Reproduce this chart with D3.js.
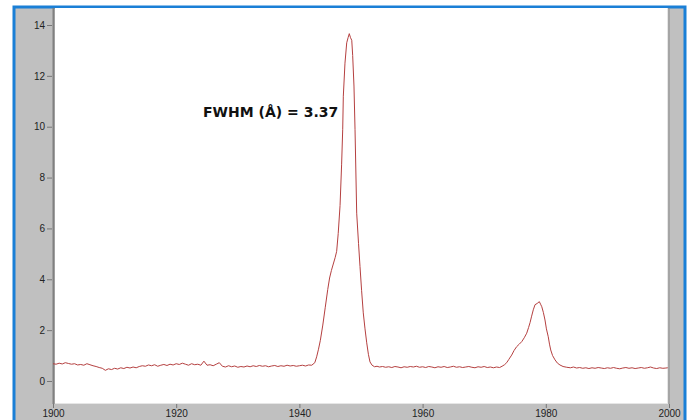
<!DOCTYPE html>
<html>
<head>
<meta charset="utf-8">
<script src="https://cdn.jsdelivr.net/npm/d3@7"></script>
<style>
    body { margin: 0; background: #fff; }
    svg { display: block; }
</style>
</head>
<body>
<svg id="chart" width="689" height="420"></svg>
<script>
// wavelength (A) and intensity
var wavelength = [
    1900.0,1900.5,1901.0,1901.5,1902.0,1902.5,1903.0,1903.5,1904.0,1904.5,
    1905.0,1905.5,1906.0,1906.5,1907.0,1907.5,1908.0,1908.5,1909.0,1909.5,
    1910.0,1910.5,1911.0,1911.5,1912.0,1912.5,1913.0,1913.5,1914.0,1914.5,
    1915.0,1915.5,1916.0,1916.5,1917.0,1917.5,1918.0,1918.5,1919.0,1919.5,
    1920.0,1920.5,1921.0,1921.5,1922.0,1922.5,1923.0,1923.5,1924.0,1924.5,
    1925.0,1925.5,1926.0,1926.5,1927.0,1927.5,1928.0,1928.5,1929.0,1929.5,
    1930.0,1930.5,1931.0,1931.5,1932.0,1932.5,1933.0,1933.5,1934.0,1934.5,
    1935.0,1935.5,1936.0,1936.5,1937.0,1937.5,1938.0,1938.5,1939.0,1939.5,
    1940.0,1940.5,1941.0,1941.5,1942.0,
    1942.5,1942.8,1943.1,1943.4,1943.8,1944.2,1944.6,1944.9,1945.2,1945.5,
    1945.8,1946.05,1946.3,1946.6,1946.85,1947.03,1947.13,1947.4,1947.68,1947.9,
    1948.1,1948.3,1948.5,1948.65,1948.86,1949.03,1949.3,1949.6,1949.84,1950.1,
    1950.37,1950.65,1950.93,1951.2,1951.46,1951.8,1952.2,1952.6,
    1953.0,1953.5,1954.0,1954.5,1955.0,1955.5,1956.0,1956.5,1957.0,1957.5,
    1958.0,1958.5,1959.0,1959.5,1960.0,1960.5,1961.0,1961.5,1962.0,1962.5,
    1963.0,1963.5,1964.0,1964.5,1965.0,1965.5,1966.0,1966.5,1967.0,1967.5,
    1968.0,1968.5,1969.0,1969.5,1970.0,1970.5,1971.0,1971.5,1972.0,1972.5,
    1972.9,1973.3,1973.65,1974.0,1974.46,1974.85,1975.27,1975.7,1976.1,1976.5,
    1976.9,1977.2,1977.45,1977.7,1977.97,1978.25,1978.6,1978.95,1979.15,1979.35,
    1979.6,1979.87,1980.1,1980.4,1980.6,1980.8,1981.1,1981.5,1981.9,1982.3,
    1982.8,1983.4,
    1984.0,1984.5,1985.0,1985.5,1986.0,1986.5,1987.0,1987.5,1988.0,1988.5,
    1989.0,1989.5,1990.0,1990.5,1991.0,1991.5,1992.0,1992.5,1993.0,1993.5,
    1994.0,1994.5,1995.0,1995.5,1996.0,1996.5,1997.0,1997.5,1998.0,1998.5,
    1999.0,1999.5,1999.8
];
var intensity = [
    0.68,0.66,0.70,0.67,0.72,0.69,0.66,0.68,0.63,0.65,
    0.62,0.68,0.64,0.60,0.57,0.53,0.50,0.42,0.48,0.45,
    0.50,0.47,0.52,0.49,0.54,0.51,0.55,0.52,0.57,0.60,
    0.58,0.63,0.60,0.64,0.58,0.62,0.65,0.61,0.66,0.63,
    0.68,0.65,0.70,0.66,0.62,0.68,0.64,0.66,0.62,0.78,
    0.62,0.64,0.60,0.66,0.72,0.58,0.55,0.60,0.56,0.59,
    0.54,0.57,0.55,0.59,0.56,0.60,0.57,0.61,0.58,0.60,
    0.56,0.59,0.61,0.57,0.60,0.58,0.62,0.59,0.61,0.58,
    0.60,0.62,0.59,0.63,0.62,
    0.72,0.95,1.25,1.6,2.2,2.9,3.6,4.05,4.35,4.6,
    4.85,5.1,5.8,6.9,8.5,9.9,11.2,12.5,13.3,13.5,
    13.66,13.5,13.4,12.8,11.6,9.9,6.6,5.4,4.5,3.55,
    2.68,2.05,1.5,1.05,0.75,0.62,0.56,0.58,
    0.55,0.57,0.54,0.56,0.53,0.57,0.55,0.52,0.56,0.54,
    0.57,0.55,0.58,0.54,0.56,0.53,0.57,0.55,0.52,0.56,
    0.54,0.57,0.53,0.55,0.58,0.54,0.56,0.53,0.55,0.57,
    0.54,0.52,0.56,0.54,0.57,0.53,0.55,0.52,0.55,0.53,
    0.58,0.64,0.72,0.85,1.02,1.2,1.35,1.45,1.55,1.7,
    1.88,2.1,2.3,2.55,2.8,3.0,3.05,3.12,3.02,2.92,
    2.7,2.4,2.05,1.74,1.45,1.22,1.0,0.83,0.7,0.63,
    0.57,0.54,
    0.52,0.55,0.51,0.53,0.50,0.52,0.49,0.52,0.50,0.53,
    0.51,0.49,0.52,0.50,0.53,0.50,0.48,0.51,0.53,0.50,
    0.52,0.49,0.51,0.53,0.50,0.52,0.55,0.51,0.49,0.52,
    0.50,0.51,0.52
];
var xTicks = [1900, 1920, 1940, 1960, 1980, 2000];
var yTicks = [0, 2, 4, 6, 8, 10, 12, 14];
var fwhmLabel = 'FWHM (\u00C5) = 3.37';

var svg = d3.select('#chart');
var plot = {l: 55, t: 8, r: 667, b: 403};

// window frame: grey panel inside a blue border
svg.append('rect')
    .attr('x', 14).attr('y', 7)
    .attr('width', 671).attr('height', 420)
    .attr('fill', '#c0c0c0')
    .attr('stroke', '#1a7fd6')
    .attr('stroke-width', 3);

// white plot area with sunken edges
svg.append('rect')
    .attr('x', plot.l).attr('y', plot.t)
    .attr('width', plot.r - plot.l).attr('height', plot.b - plot.t)
    .attr('fill', '#fff');
svg.append('line')
    .attr('x1', plot.l - 1.5).attr('x2', plot.l - 1.5)
    .attr('y1', plot.t).attr('y2', plot.b + 1)
    .attr('stroke', '#808080').attr('stroke-width', 2);
svg.append('line')
    .attr('x1', plot.r + 0.5).attr('x2', plot.r + 0.5)
    .attr('y1', plot.t).attr('y2', plot.b + 1)
    .attr('stroke', '#e6e6e6');
svg.append('line')
    .attr('x1', plot.r + 2).attr('x2', plot.r + 2)
    .attr('y1', plot.t).attr('y2', plot.b + 1)
    .attr('stroke', '#8a8a8a');
svg.append('line')
    .attr('x1', plot.l).attr('x2', plot.r + 1)
    .attr('y1', plot.b + 0.5).attr('y2', plot.b + 0.5)
    .attr('stroke', '#e6e6e6');

var xScale = d3.scaleLinear().domain([1900, 2000]).range([53, 669]);
var yScale = d3.scaleLinear().domain([0, 14]).range([381, 25]);

var xAxis = d3.axisBottom(xScale).tickValues(xTicks).tickSize(4).tickPadding(2).tickFormat(d3.format('d'));
var yAxis = d3.axisLeft(yScale).tickValues(yTicks).tickSize(5).tickPadding(2);

var xAxisG = svg.append('g')
    .attr('transform', 'translate(0,' + (plot.b + 1) + ')')
    .call(xAxis);
var yAxisG = svg.append('g')
    .attr('transform', 'translate(' + (plot.l - 3) + ',0)')
    .call(yAxis);

[xAxisG, yAxisG].forEach(function(g){
    g.select('.domain').remove();
    g.selectAll('.tick line').attr('stroke', '#777');
    g.selectAll('.tick text')
        .attr('fill', '#222')
        .style('font-family', 'Liberation Sans, Arial, sans-serif')
        .style('font-size', '10px');
});

// spectrum trace
var pts = wavelength.map(function(w, i){ return [w, intensity[i]]; });
var line = d3.line()
    .x(function(d){ return xScale(d[0]); })
    .y(function(d){ return yScale(d[1]); });

svg.append('path')
    .datum(pts)
    .attr('d', line)
    .attr('fill', 'none')
    .attr('stroke', '#b54040')
    .attr('stroke-width', 1)
    .attr('stroke-linejoin', 'miter');

svg.append('text')
    .attr('x', 203)
    .attr('y', 117)
    .style('font-family', 'DejaVu Sans, Verdana, sans-serif')
    .style('font-weight', 'bold')
    .style('font-size', '14px')
    .attr('fill', '#111')
    .text(fwhmLabel);
</script>
</body>
</html>
